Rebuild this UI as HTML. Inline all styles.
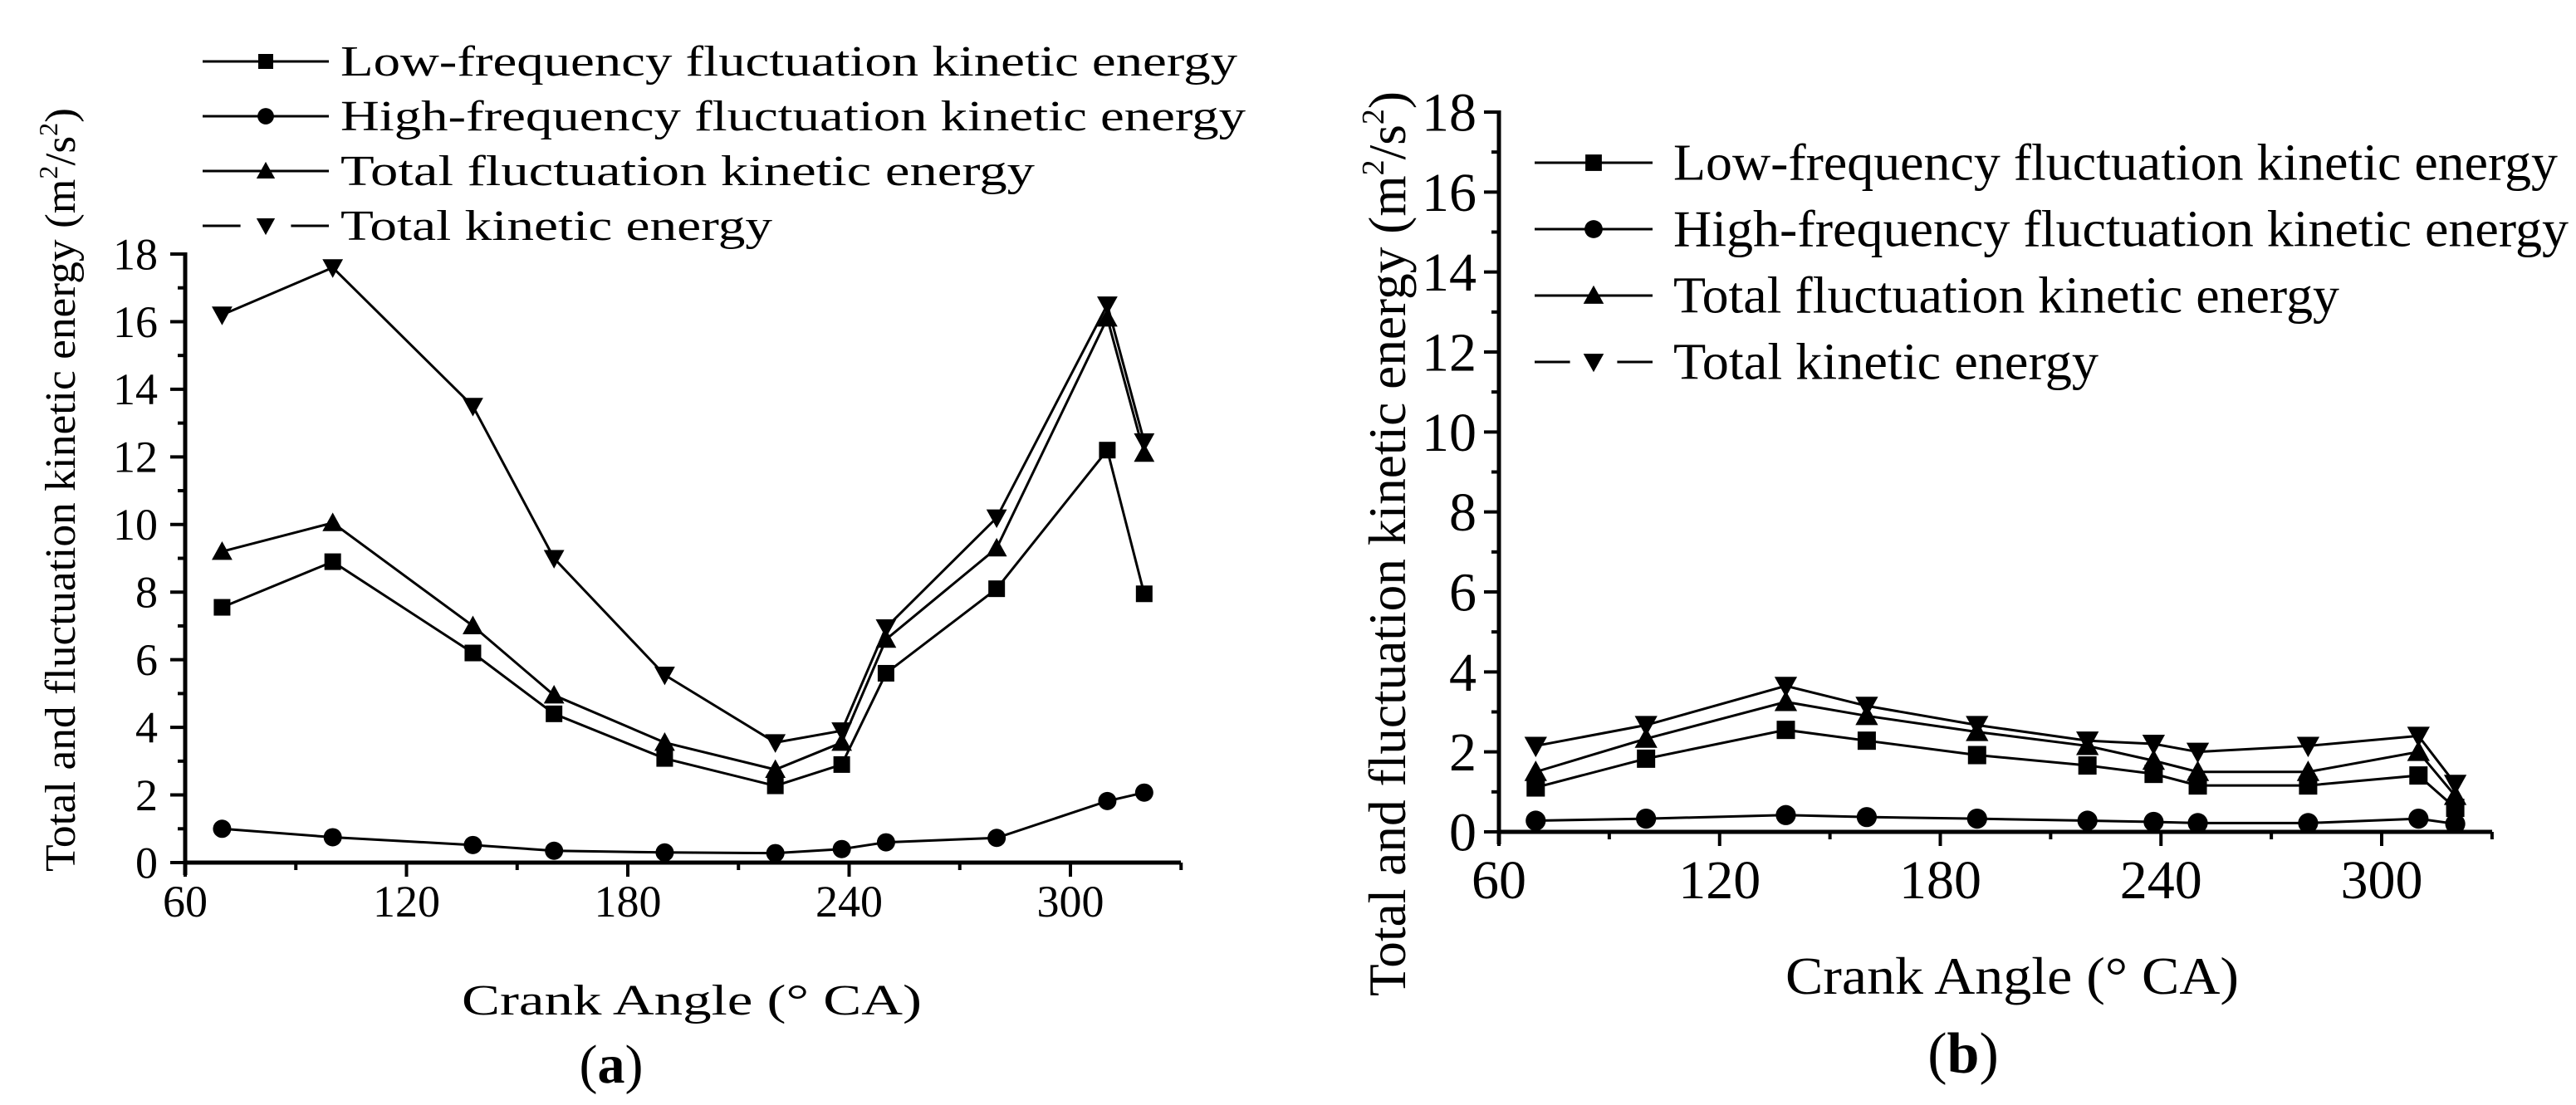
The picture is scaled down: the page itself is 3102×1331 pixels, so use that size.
<!DOCTYPE html>
<html><head><meta charset="utf-8"><style>
html,body{margin:0;padding:0;background:#fff;}
svg{display:block;font-family:"Liberation Serif",serif;}
</style></head><body>
<svg id="fig" width="3102" height="1331" viewBox="0 0 3102 1331" xmlns="http://www.w3.org/2000/svg">
<g id="pa"></g>
<g id="pb"></g>
</svg>
<script>
const crankAngles = [70,100,138,160,190,220,238,250,280,310,320];
const aLow = [7.55,8.9,6.2,4.4,3.08,2.27,2.9,5.6,8.1,12.2,7.95];
const aHigh = [1.0,0.75,0.52,0.35,0.3,0.28,0.4,0.6,0.73,1.82,2.07];
const aTotFluct = [9.2,10.05,7.0,4.95,3.55,2.75,3.55,6.6,9.3,16.1,12.1];
const aTotal = [16.2,17.6,13.5,9.0,5.55,3.55,3.9,6.95,10.2,16.5,12.45];
const bLow = [1.11,1.83,2.55,2.28,1.92,1.66,1.45,1.16,1.16,1.41,0.6];
const bHigh = [0.28,0.33,0.42,0.37,0.33,0.28,0.25,0.22,0.22,0.33,0.2];
const bTotFluct = [1.5,2.33,3.25,2.9,2.5,2.15,1.78,1.5,1.5,2.0,0.9];
const bTotal = [2.15,2.67,3.65,3.15,2.67,2.28,2.2,2.0,2.15,2.4,1.2];
const xTicks = [60,120,180,240,300];
const yTicks = [0,2,4,6,8,10,12,14,16,18];
const seriesNames = ["Low-frequency fluctuation kinetic energy","High-frequency fluctuation kinetic energy","Total fluctuation kinetic energy","Total kinetic energy"];
const markerTypes = ["square","circle","up","down"];

const NS="http://www.w3.org/2000/svg";
function mk(tag,attrs,parent){const e=document.createElementNS(NS,tag);for(const k in attrs)e.setAttribute(k,attrs[k]);parent.appendChild(e);return e;}
function marker(type,x,y,s,parent){
  let e;
  if(type==="square"){e=mk("rect",{x:x-s/2,y:y-s/2,width:s,height:s,fill:"#000"},parent);}
  else if(type==="circle"){e=mk("circle",{cx:x,cy:y,r:s*0.55,fill:"#000"},parent);}
  else if(type==="up"){e=mk("polygon",{points:`${x},${y-s*0.62} ${x-s*0.62},${y+s*0.5} ${x+s*0.62},${y+s*0.5}`,fill:"#000"},parent);}
  else {e=mk("polygon",{points:`${x},${y+s*0.62} ${x-s*0.62},${y-s*0.5} ${x+s*0.62},${y-s*0.5}`,fill:"#000"},parent);}
  return e;
}
function panel(g,cfg,data){
  const X=v=>cfg.x0+(v-60)*(cfg.x300-cfg.x0)/240;
  const Y=v=>cfg.y0-(v)*(cfg.y0-cfg.y18)/18;
  const ax=mk("line",{x1:cfg.x0,y1:cfg.y0,x2:cfg.xEnd,y2:cfg.y0,stroke:"#000","stroke-width":5},g);
  
  
  const ay=mk("line",{x1:cfg.x0,y1:cfg.y0+15,x2:cfg.x0,y2:cfg.y18-2,stroke:"#000","stroke-width":5},g);
  
  
  for(let v=60;v<=330;v+=30){
    const maj=(v%60===0);
    const t=mk("line",{x1:X(v),y1:cfg.y0,x2:X(v),y2:cfg.y0+(maj?17:9),stroke:"#000","stroke-width":4},g);
    
    
  }
  for(let v=0;v<=18;v+=1){
    const maj=(v%2===0);
    const t=mk("line",{x1:cfg.x0,y1:Y(v),x2:cfg.x0-(maj?18:9),y2:Y(v),stroke:"#000","stroke-width":4},g);
    
    
  }
  xTicks.forEach(v=>{
    const t=mk("text",{x:X(v),y:cfg.xLabY,"font-size":cfg.tickFs,"text-anchor":"middle"},g);
    t.textContent=v;
    
    
  });
  yTicks.forEach(v=>{
    const t=mk("text",{x:cfg.yLabX,y:Y(v)+cfg.tickFs*0.34,"font-size":cfg.tickFs,"text-anchor":"end"},g);
    t.textContent=v;
    
    
  });
  data.forEach((vals,i)=>{
    const sg=mk("g",{},g);
    
    
    mk("polyline",{points:vals.map((v,j)=>X(crankAngles[j])+","+Y(v)).join(" "),fill:"none",stroke:"#000","stroke-width":3},sg);
    vals.forEach((v,j)=>{
      const m=marker(markerTypes[i],X(crankAngles[j]),Y(v),cfg.ms,sg);
      
      
    });
  });
  seriesNames.forEach((n,i)=>{
    const ly=cfg.legY[i];
    const lg=mk("g",{},g);
    
    
    if(i===3){
      mk("line",{x1:cfg.legX1,y1:ly,x2:cfg.legX1+(cfg.legX2-cfg.legX1)*0.3,y2:ly,stroke:"#000","stroke-width":3},lg);
      mk("line",{x1:cfg.legX2-(cfg.legX2-cfg.legX1)*0.3,y1:ly,x2:cfg.legX2,y2:ly,stroke:"#000","stroke-width":3},lg);
    } else mk("line",{x1:cfg.legX1,y1:ly,x2:cfg.legX2,y2:ly,stroke:"#000","stroke-width":3},lg);
    marker(markerTypes[i],(cfg.legX1+cfg.legX2)/2,ly,cfg.ms*0.9,lg);
    const t=mk("text",{x:cfg.legTX,y:ly+cfg.legFs*0.33,"font-size":cfg.legFs,textLength:cfg.legLen[i],lengthAdjust:"spacingAndGlyphs"},lg);
    t.textContent=n;
  });
  const sup=cfg.titleFs*0.6, d=Math.round(cfg.titleFs*0.4);
  const yt=mk("text",{x:0,y:0,"font-size":cfg.titleFs,"text-anchor":"middle",transform:`translate(${cfg.yTitleX},${cfg.yTitleY}) rotate(-90)`,textLength:cfg.yTitleLen,lengthAdjust:"spacingAndGlyphs"},g);
  yt.innerHTML='Total and fluctuation kinetic energy (m<tspan dy="-'+d+'" font-size="'+sup+'">2</tspan><tspan dy="'+d+'">/s</tspan><tspan dy="-'+d+'" font-size="'+sup+'">2</tspan><tspan dy="'+d+'">)</tspan>';
  
  
  const xt=mk("text",{x:cfg.xTitleX,y:cfg.xTitleY,"font-size":cfg.titleFs,"text-anchor":"middle",textLength:cfg.xTitleLen,lengthAdjust:"spacingAndGlyphs"},g);
  xt.textContent="Crank Angle (°   CA)";
  
  
  const pl=mk("text",{x:cfg.plX,y:cfg.plY,"font-size":cfg.plFs,"text-anchor":"middle"},g);
  pl.innerHTML='(<tspan font-weight="bold">'+cfg.letter+'</tspan>)';
  
  
}
panel(document.getElementById("pa"),{
  x0:223,x300:1289,xEnd:1422,y0:1039,y18:306,tickFs:54,xLabY:1104,yLabX:190,ms:20,
  legY:[74,140,206,272],legX1:244,legX2:396,legTX:410,legFs:52,legLen:[1080,1090,836,520],
  titleFs:52,yTitleX:90,yTitleY:590,yTitleLen:920,xTitleX:833,xTitleY:1222,xTitleLen:554,
  plX:736,plY:1304,plFs:66,letter:"a"
},[aLow,aHigh,aTotFluct,aTotal]);
panel(document.getElementById("pb"),{
  x0:1805,x300:2868,xEnd:3001,y0:1002,y18:135,tickFs:66,xLabY:1082,yLabX:1778,ms:22,
  legY:[196,276,356,436],legX1:1848,legX2:1990,legTX:2015,legFs:62,legLen:[1065,1078,802,512],
  titleFs:64,yTitleX:1692,yTitleY:655,yTitleLen:1090,xTitleX:2423,xTitleY:1197,xTitleLen:546,
  plX:2364,plY:1292,plFs:70,letter:"b"
},[bLow,bHigh,bTotFluct,bTotal]);
</script>
</body></html>
